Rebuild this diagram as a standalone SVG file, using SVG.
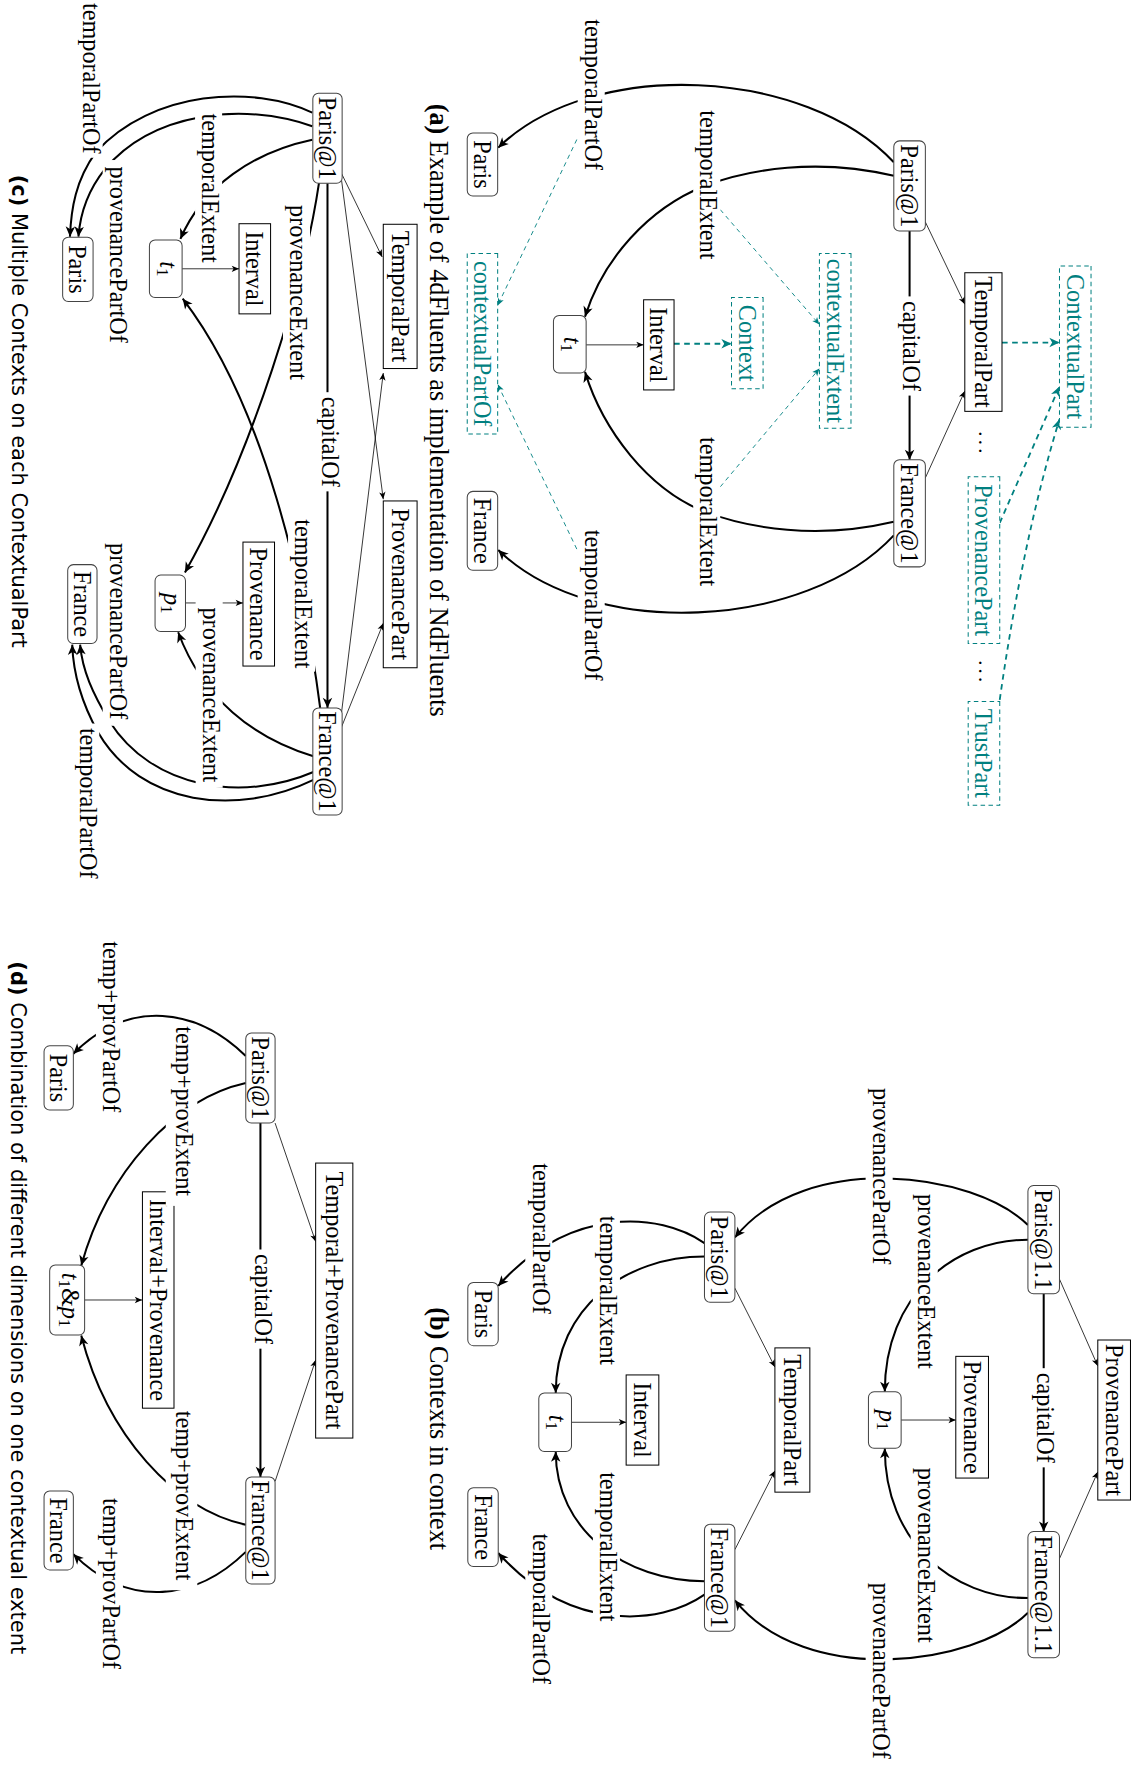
<svg xmlns="http://www.w3.org/2000/svg" width="1144" height="1767" viewBox="0 0 1144 1767">
<style>
.lbl{font-family:"Liberation Serif",serif;font-size:21.5px;text-anchor:middle;dominant-baseline:central;fill:#000}
.tl{fill:#008080}
.cap{font-family:"Liberation Serif",serif;font-size:23.3px;dominant-baseline:central;fill:#000}
.caps{font-family:"DejaVu Sans",sans-serif;font-size:18.6px;dominant-baseline:central;fill:#000}
.rn{fill:#fff;stroke:#444;stroke-width:0.9}
.bx{fill:#fff;stroke:#000;stroke-width:0.9}
.db{fill:#fff;stroke:#008080;stroke-width:0.9;stroke-dasharray:4 3}
.bg{fill:#fff;stroke:none}
.thk{fill:none;stroke:#000;stroke-width:1.8}
.thn{fill:none;stroke:#000;stroke-width:0.7}
.tdk{fill:none;stroke:#008080;stroke-width:1.6;stroke-dasharray:5 4}
.tdn{fill:none;stroke:#008080;stroke-width:0.8;stroke-dasharray:4 3.5}
.dots{font-family:"Liberation Serif",serif;font-size:18px;text-anchor:middle;fill:#000;letter-spacing:3px}
</style>
<defs>
<marker id="ah" viewBox="-10 -5 11 10" refX="0" refY="0" markerWidth="11" markerHeight="10" orient="auto" markerUnits="userSpaceOnUse"><path d="M0,0 L-9,-4.2 L-6.5,0 L-9,4.2 Z" fill="#000"/></marker>
<marker id="ahs" viewBox="-8 -4 9 8" refX="0" refY="0" markerWidth="9" markerHeight="8" orient="auto" markerUnits="userSpaceOnUse"><path d="M0,0 L-6.5,-2.8 L-4.8,0 L-6.5,2.8 Z" fill="#000"/></marker>
<marker id="aht" viewBox="-10 -5 11 10" refX="0" refY="0" markerWidth="11" markerHeight="10" orient="auto" markerUnits="userSpaceOnUse"><path d="M0,0 L-9,-4.2 L-6.5,0 L-9,4.2 Z" fill="#008080"/></marker>
<marker id="ahts" viewBox="-8 -4 9 8" refX="0" refY="0" markerWidth="9" markerHeight="8" orient="auto" markerUnits="userSpaceOnUse"><path d="M0,0 L-6.5,-2.8 L-4.8,0 L-6.5,2.8 Z" fill="#008080"/></marker>
</defs>
<rect x="0" y="0" width="1144" height="1767" fill="#fff"/>
<g transform="matrix(0 1.127 -1.127 0 1144 0)">

<g id="connectors">
<!-- panel a -->
<path class="thk" d="M144,222 C60,300 50,490 131,573" marker-end="url(#ah)"/>
<path class="thk" d="M475,222 C559,300 569,490 488,573" marker-end="url(#ah)"/>
<path class="thk" d="M156,222 C140,290 150,350 165,390 C185,440 230,480 281,496" marker-end="url(#ah)"/>
<path class="thk" d="M463,222 C479,290 469,350 454,390 C434,440 382,480 330,496" marker-end="url(#ah)"/>
<path class="thk" d="M205,208 L408,208" marker-end="url(#ah)"/>
<path class="thn" d="M306,495 L306,444" marker-end="url(#ahs)"/>
<path class="tdk" d="M305,417 L305,366" marker-end="url(#aht)"/>
<path class="tdk" d="M304,126 L304,75" marker-end="url(#aht)"/>
<path class="tdk" d="M464,128 L343,75" marker-end="url(#aht)"/>
<path class="tdk" d="M621,128 Q480,108 372,75" marker-end="url(#aht)"/>
<path class="thn" d="M197,194 L270,159" marker-end="url(#ahs)"/>
<path class="thn" d="M424,194 L347,159" marker-end="url(#ahs)"/>
<path class="tdn" d="M186,376 L288,288" marker-end="url(#ahts)"/>
<path class="tdn" d="M432,376 L327,288" marker-end="url(#ahts)"/>
<path class="tdn" d="M117,500 L271,573.5" marker-end="url(#ahts)"/>
<path class="tdn" d="M494,500 L341,573.5" marker-end="url(#ahts)"/>
<!-- panel c -->
<path class="thk" d="M100,738 C75,790 80,880 135,930 C160,948 185,952 210,953" marker-end="url(#ah)"/>
<path class="thk" d="M112,738 C90,800 100,880 150,922 C170,938 190,944 210,945.5" marker-end="url(#ah)"/>
<path class="thk" d="M124,738 C135,790 165,835 212,855" marker-end="url(#ah)"/>
<path class="thk" d="M162,732 C250,745 400,790 508,851" marker-end="url(#ah)"/>
<path class="thk" d="M628,731 C520,745 360,780 265,853" marker-end="url(#ah)"/>
<path class="thk" d="M671,737 C655,790 620,835 561,857" marker-end="url(#ah)"/>
<path class="thk" d="M685,737 C712,800 700,880 640,918 C615,933 595,942 572,944" marker-end="url(#ah)"/>
<path class="thk" d="M692,737 C725,805 715,890 650,928 C625,942 600,950 572,951" marker-end="url(#ah)"/>
<path class="thn" d="M154,712 L228,676" marker-end="url(#ahs)"/>
<path class="thn" d="M160,712 L443,675" marker-end="url(#ahs)"/>
<path class="thn" d="M632,712 L331,675" marker-end="url(#ahs)"/>
<path class="thn" d="M645,712 L553,675" marker-end="url(#ahs)"/>
<path class="thk" d="M162.7,724.5 L628.2,724.5" marker-end="url(#ah)"/>
<path class="thn" d="M238.5,853.5 L238.5,803" marker-end="url(#ahs)"/>
<path class="thn" d="M535,850.5 L535,799.5" marker-end="url(#ahs)"/>
<!-- panel b -->
<path class="thk" d="M1148,89 L1359,89" marker-end="url(#ah)"/>
<path class="thn" d="M1135,75 L1212,41" marker-end="url(#ahs)"/>
<path class="thn" d="M1383,75 L1306,41" marker-end="url(#ahs)"/>
<path class="thn" d="M1143,363 L1213,327.5" marker-end="url(#ahs)"/>
<path class="thn" d="M1375,363 L1305,327.5" marker-end="url(#ahs)"/>
<path class="thn" d="M1260,215.5 L1260,167" marker-end="url(#ahs)"/>
<path class="thn" d="M1262,508 L1262,459.5" marker-end="url(#ahs)"/>
<path class="thk" d="M1087,103 C1040,150 1020,300 1098,363" marker-end="url(#ah)"/>
<path class="thk" d="M1431,103 C1478,150 1498,300 1420,363" marker-end="url(#ah)"/>
<path class="thk" d="M1100,103 C1100,170 1150,230 1235,230" marker-end="url(#ah)"/>
<path class="thk" d="M1418,103 C1418,170 1368,230 1285,230" marker-end="url(#ah)"/>
<path class="thk" d="M1103,390 C1075,430 1070,510 1141,573" marker-end="url(#ah)"/>
<path class="thk" d="M1415,390 C1443,430 1448,510 1378,573" marker-end="url(#ah)"/>
<path class="thk" d="M1115,390 C1115,460 1160,522 1236,522" marker-end="url(#ah)"/>
<path class="thk" d="M1403,390 C1403,460 1358,522 1288,522" marker-end="url(#ah)"/>
<!-- panel d -->
<path class="thn" d="M996.5,771 L1101.7,735" marker-end="url(#ahs)"/>
<path class="thn" d="M1314.5,771 L1206.7,735" marker-end="url(#ahs)"/>
<path class="thk" d="M996.5,784 L1310.5,784" marker-end="url(#ah)"/>
<path class="thk" d="M937,797 C895,840 885,900 935,950" marker-end="url(#ah)"/>
<path class="thk" d="M961,797 C975,860 1040,920 1123,943" marker-end="url(#ah)"/>
<path class="thk" d="M1353,797 C1339,860 1274,920 1185,943" marker-end="url(#ah)"/>
<path class="thk" d="M1377,797 C1419,840 1429,900 1379,950" marker-end="url(#ah)"/>
<path class="thn" d="M1153.5,940 L1153.5,889" marker-end="url(#ahs)"/>
</g>

<!-- panel a nodes -->
<g id="a-contextualpart"><rect class="db" x="236" y="47" width="143" height="28"/><text class="lbl tl" x="307.5" y="61">ContextualPart</text></g>
<g id="a-temporalpart"><rect class="bx" x="242" y="126" width="123" height="33"/><text class="lbl" x="303.5" y="142.5">TemporalPart</text></g>
<g id="a-provenancepart"><rect class="db" x="423" y="128" width="148" height="28"/><text class="lbl tl" x="497" y="142">ProvenancePart</text></g>
<g id="a-trustpart"><rect class="db" x="622.5" y="128" width="92" height="28"/><text class="lbl tl" x="668.5" y="142">TrustPart</text></g>
<g id="a-dots"><text class="dots" x="394" y="146">...</text><text class="dots" x="597" y="146">...</text></g>
<g id="a-paris1"><rect class="rn" x="125" y="194" width="80" height="28" rx="5"/><text class="lbl" x="165" y="208">Paris@1</text></g>
<g id="a-france1"><rect class="rn" x="408" y="194" width="95" height="28" rx="5"/><text class="lbl" x="455.5" y="208">France@1</text></g>
<g id="a-contextualextent"><rect class="db" x="225" y="260" width="155" height="28"/><text class="lbl tl" x="302.5" y="274">contextualExtent</text></g>
<g id="a-context"><rect class="db" x="264" y="338" width="81" height="28"/><text class="lbl tl" x="304.5" y="352">Context</text></g>
<g id="a-interval"><rect class="bx" x="266" y="417" width="80" height="27"/><text class="lbl" x="306" y="430.5">Interval</text></g>
<g id="a-t1"><rect class="rn" x="280" y="495" width="51" height="29" rx="5"/><text class="lbl" x="305.5" y="507"><tspan font-style="italic">t</tspan><tspan font-size="15" dy="5">1</tspan></text></g>
<g id="a-paris"><rect class="rn" x="118" y="573.5" width="56" height="27" rx="5"/><text class="lbl" x="146" y="587">Paris</text></g>
<g id="a-france"><rect class="rn" x="436" y="573.5" width="70" height="27" rx="5"/><text class="lbl" x="471" y="587">France</text></g>
<g id="a-contextualpartof"><rect class="db" x="225" y="573.5" width="160" height="27"/><text class="lbl tl" x="305" y="587">contextualPartOf</text></g>

<!-- panel c nodes -->
<g id="c-temporalpart"><rect class="bx" x="199" y="645" width="128" height="30"/><text class="lbl" x="263" y="660">TemporalPart</text></g>
<g id="c-provenancepart"><rect class="bx" x="444.5" y="645" width="148" height="30"/><text class="lbl" x="518.5" y="660">ProvenancePart</text></g>
<g id="c-paris1"><rect class="rn" x="82.7" y="711.5" width="80" height="26" rx="5"/><text class="lbl" x="122.7" y="724.5">Paris@1</text></g>
<g id="c-france1"><rect class="rn" x="628.2" y="711.5" width="95" height="26" rx="5"/><text class="lbl" x="675.7" y="724.5">France@1</text></g>
<g id="c-interval"><rect class="bx" x="198.5" y="775" width="80" height="28"/><text class="lbl" x="238.5" y="789">Interval</text></g>
<g id="c-t1"><rect class="rn" x="213" y="853.5" width="51" height="29" rx="5"/><text class="lbl" x="238.5" y="865.5"><tspan font-style="italic">t</tspan><tspan font-size="15" dy="5">1</tspan></text></g>
<g id="c-provenance"><rect class="bx" x="481" y="771.5" width="110" height="28"/><text class="lbl" x="536" y="785.5">Provenance</text></g>
<g id="c-p1"><rect class="rn" x="510.3" y="850.5" width="50" height="27" rx="5"/><text class="lbl" x="535.3" y="861.5"><tspan font-style="italic">p</tspan><tspan font-size="15" dy="5">1</tspan></text></g>
<g id="c-paris"><rect class="rn" x="210.5" y="932.5" width="57" height="27" rx="5"/><text class="lbl" x="239" y="946">Paris</text></g>
<g id="c-france"><rect class="rn" x="501" y="929" width="70" height="26" rx="5"/><text class="lbl" x="536" y="942">France</text></g>

<!-- panel b nodes -->
<g id="b-provenancepart"><rect class="bx" x="1189" y="12" width="142" height="29"/><text class="lbl" x="1260" y="26.5">ProvenancePart</text></g>
<g id="b-paris11"><rect class="rn" x="1052" y="75" width="96" height="28" rx="5"/><text class="lbl" x="1100" y="89">Paris@1.1</text></g>
<g id="b-france11"><rect class="rn" x="1359" y="75" width="112" height="28" rx="5"/><text class="lbl" x="1415" y="89">France@1.1</text></g>
<g id="b-provenance"><rect class="bx" x="1203.5" y="138" width="108" height="29"/><text class="lbl" x="1257.5" y="152.5">Provenance</text></g>
<g id="b-p1"><rect class="rn" x="1235" y="215.5" width="50" height="29" rx="5"/><text class="lbl" x="1260" y="227"><tspan font-style="italic">p</tspan><tspan font-size="15" dy="5">1</tspan></text></g>
<g id="b-temporalpart"><rect class="bx" x="1196" y="296.5" width="128" height="31"/><text class="lbl" x="1260" y="312">TemporalPart</text></g>
<g id="b-paris1"><rect class="rn" x="1075.5" y="363" width="80" height="27" rx="5"/><text class="lbl" x="1115.5" y="376.5">Paris@1</text></g>
<g id="b-france1"><rect class="rn" x="1352.5" y="363" width="95" height="27" rx="5"/><text class="lbl" x="1400" y="376.5">France@1</text></g>
<g id="b-interval"><rect class="bx" x="1220" y="430.5" width="80" height="29"/><text class="lbl" x="1260" y="445">Interval</text></g>
<g id="b-t1"><rect class="rn" x="1236" y="508" width="52" height="29" rx="5"/><text class="lbl" x="1262" y="520"><tspan font-style="italic">t</tspan><tspan font-size="15" dy="5">1</tspan></text></g>
<g id="b-paris"><rect class="rn" x="1138" y="573" width="56" height="27" rx="5"/><text class="lbl" x="1166" y="586.5">Paris</text></g>
<g id="b-france"><rect class="rn" x="1320" y="573" width="70" height="27" rx="5"/><text class="lbl" x="1355" y="586.5">France</text></g>

<!-- panel d nodes -->
<g id="d-tpp"><rect class="bx" x="1032" y="702" width="244" height="33"/><text class="lbl" x="1154" y="718.5">Temporal+ProvenancePart</text></g>
<g id="d-paris1"><rect class="rn" x="916.5" y="771" width="80" height="26" rx="5"/><text class="lbl" x="956.5" y="784">Paris@1</text></g>
<g id="d-france1"><rect class="rn" x="1310.5" y="771" width="95" height="26" rx="5"/><text class="lbl" x="1358" y="784">France@1</text></g>
<g id="d-ip"><rect class="bx" x="1057.5" y="860.7" width="192" height="28"/><text class="lbl" x="1153.5" y="874.7">Interval+Provenance</text></g>
<g id="d-t1p1"><rect class="rn" x="1122.5" y="940" width="62" height="31" rx="5"/><text class="lbl" x="1153.5" y="952.5"><tspan font-style="italic">t</tspan><tspan font-size="15" dy="5">1</tspan><tspan dy="-5">&amp;</tspan><tspan font-style="italic">p</tspan><tspan font-size="15" dy="5">1</tspan></text></g>
<g id="d-paris"><rect class="rn" x="928" y="950" width="57" height="26" rx="5"/><text class="lbl" x="956.5" y="963">Paris</text></g>
<g id="d-france"><rect class="rn" x="1323" y="950" width="70" height="26" rx="5"/><text class="lbl" x="1358" y="963">France</text></g>

<g id="edge-labels">
<!-- a -->
<rect class="bg" x="13" y="478.5" width="142" height="24"/><text class="lbl" x="84" y="488.5">temporalPartOf</text>
<rect class="bg" x="466" y="478.5" width="142" height="24"/><text class="lbl" x="537" y="488.5">temporalPartOf</text>
<rect class="bg" x="91.5" y="376" width="145" height="24"/><text class="lbl" x="164" y="386">temporalExtent</text>
<rect class="bg" x="381.5" y="376" width="145" height="24"/><text class="lbl" x="454" y="386">temporalExtent</text>
<rect class="bg" x="263" y="196" width="88" height="24"/><text class="lbl" x="307" y="206">capitalOf</text>
<!-- c -->
<rect class="bg" x="-1" y="924" width="141" height="24"/><text class="lbl" x="69.5" y="934">temporalPartOf</text>
<rect class="bg" x="142" y="900" width="168" height="24"/><text class="lbl" x="226" y="910">provenancePartOf</text>
<rect class="bg" x="98" y="818" width="138" height="24"/><text class="lbl" x="167" y="828">temporalExtent</text>
<rect class="bg" x="177" y="740" width="165" height="24"/><text class="lbl" x="259.5" y="750">provenanceExtent</text>
<rect class="bg" x="348" y="712" width="88" height="24"/><text class="lbl" x="392" y="722">capitalOf</text>
<rect class="bg" x="458" y="735.5" width="138" height="24"/><text class="lbl" x="527" y="745.5">temporalExtent</text>
<rect class="bg" x="534" y="817.5" width="165" height="24"/><text class="lbl" x="616.6" y="827.5">provenanceExtent</text>
<rect class="bg" x="476" y="900" width="168" height="24"/><text class="lbl" x="560" y="910">provenancePartOf</text>
<rect class="bg" x="642" y="927" width="141" height="24"/><text class="lbl" x="712.7" y="937">temporalPartOf</text>
<!-- b -->
<rect class="bg" x="960" y="223" width="168" height="24"/><text class="lbl" x="1043.6" y="233">provenancePartOf</text>
<rect class="bg" x="1398.5" y="223" width="168" height="24"/><text class="lbl" x="1482.5" y="233">provenancePartOf</text>
<rect class="bg" x="1054.5" y="183" width="165" height="24"/><text class="lbl" x="1137" y="193">provenanceExtent</text>
<rect class="bg" x="1297.5" y="183" width="165" height="24"/><text class="lbl" x="1380" y="193">provenanceExtent</text>
<rect class="bg" x="1076" y="465" width="138" height="24"/><text class="lbl" x="1145" y="475">temporalExtent</text>
<rect class="bg" x="1303.5" y="465" width="138" height="24"/><text class="lbl" x="1372.5" y="475">temporalExtent</text>
<rect class="bg" x="1028.5" y="525" width="141" height="24"/><text class="lbl" x="1099" y="535">temporalPartOf</text>
<rect class="bg" x="1357" y="525" width="141" height="24"/><text class="lbl" x="1427.5" y="535">temporalPartOf</text>
<rect class="bg" x="1214" y="77" width="88" height="24"/><text class="lbl" x="1258" y="87">capitalOf</text>
<!-- d -->
<rect class="bg" x="835" y="906" width="160" height="24"/><text class="lbl" x="911" y="916">temp+provPartOf</text>
<rect class="bg" x="1329" y="906" width="160" height="24"/><text class="lbl" x="1405" y="916">temp+provPartOf</text>
<rect class="bg" x="910" y="840" width="160" height="28"/><text class="lbl" x="986" y="851">temp+provExtent</text>
<rect class="bg" x="1251" y="840" width="160" height="28"/><text class="lbl" x="1327" y="851">temp+provExtent</text>
<rect class="bg" x="1108.7" y="771.7" width="88" height="24"/><text class="lbl" x="1152.7" y="781.7">capitalOf</text>
</g>

<g id="captions">
<text class="cap" x="92" y="625.6"><tspan font-weight="bold">(a)</tspan> Example of 4dFluents as implementation of NdFluents</text>
<text class="cap" x="1160" y="625.6"><tspan font-weight="bold">(b)</tspan> Contexts in context</text>
<text class="caps" x="155" y="998"><tspan font-weight="bold">(c)</tspan> Multiple Contexts on each ContextualPart</text>
<text class="caps" x="853" y="999"><tspan font-weight="bold">(d)</tspan> Combination of different dimensions on one contextual extent</text>
</g>
</g>
</svg>
